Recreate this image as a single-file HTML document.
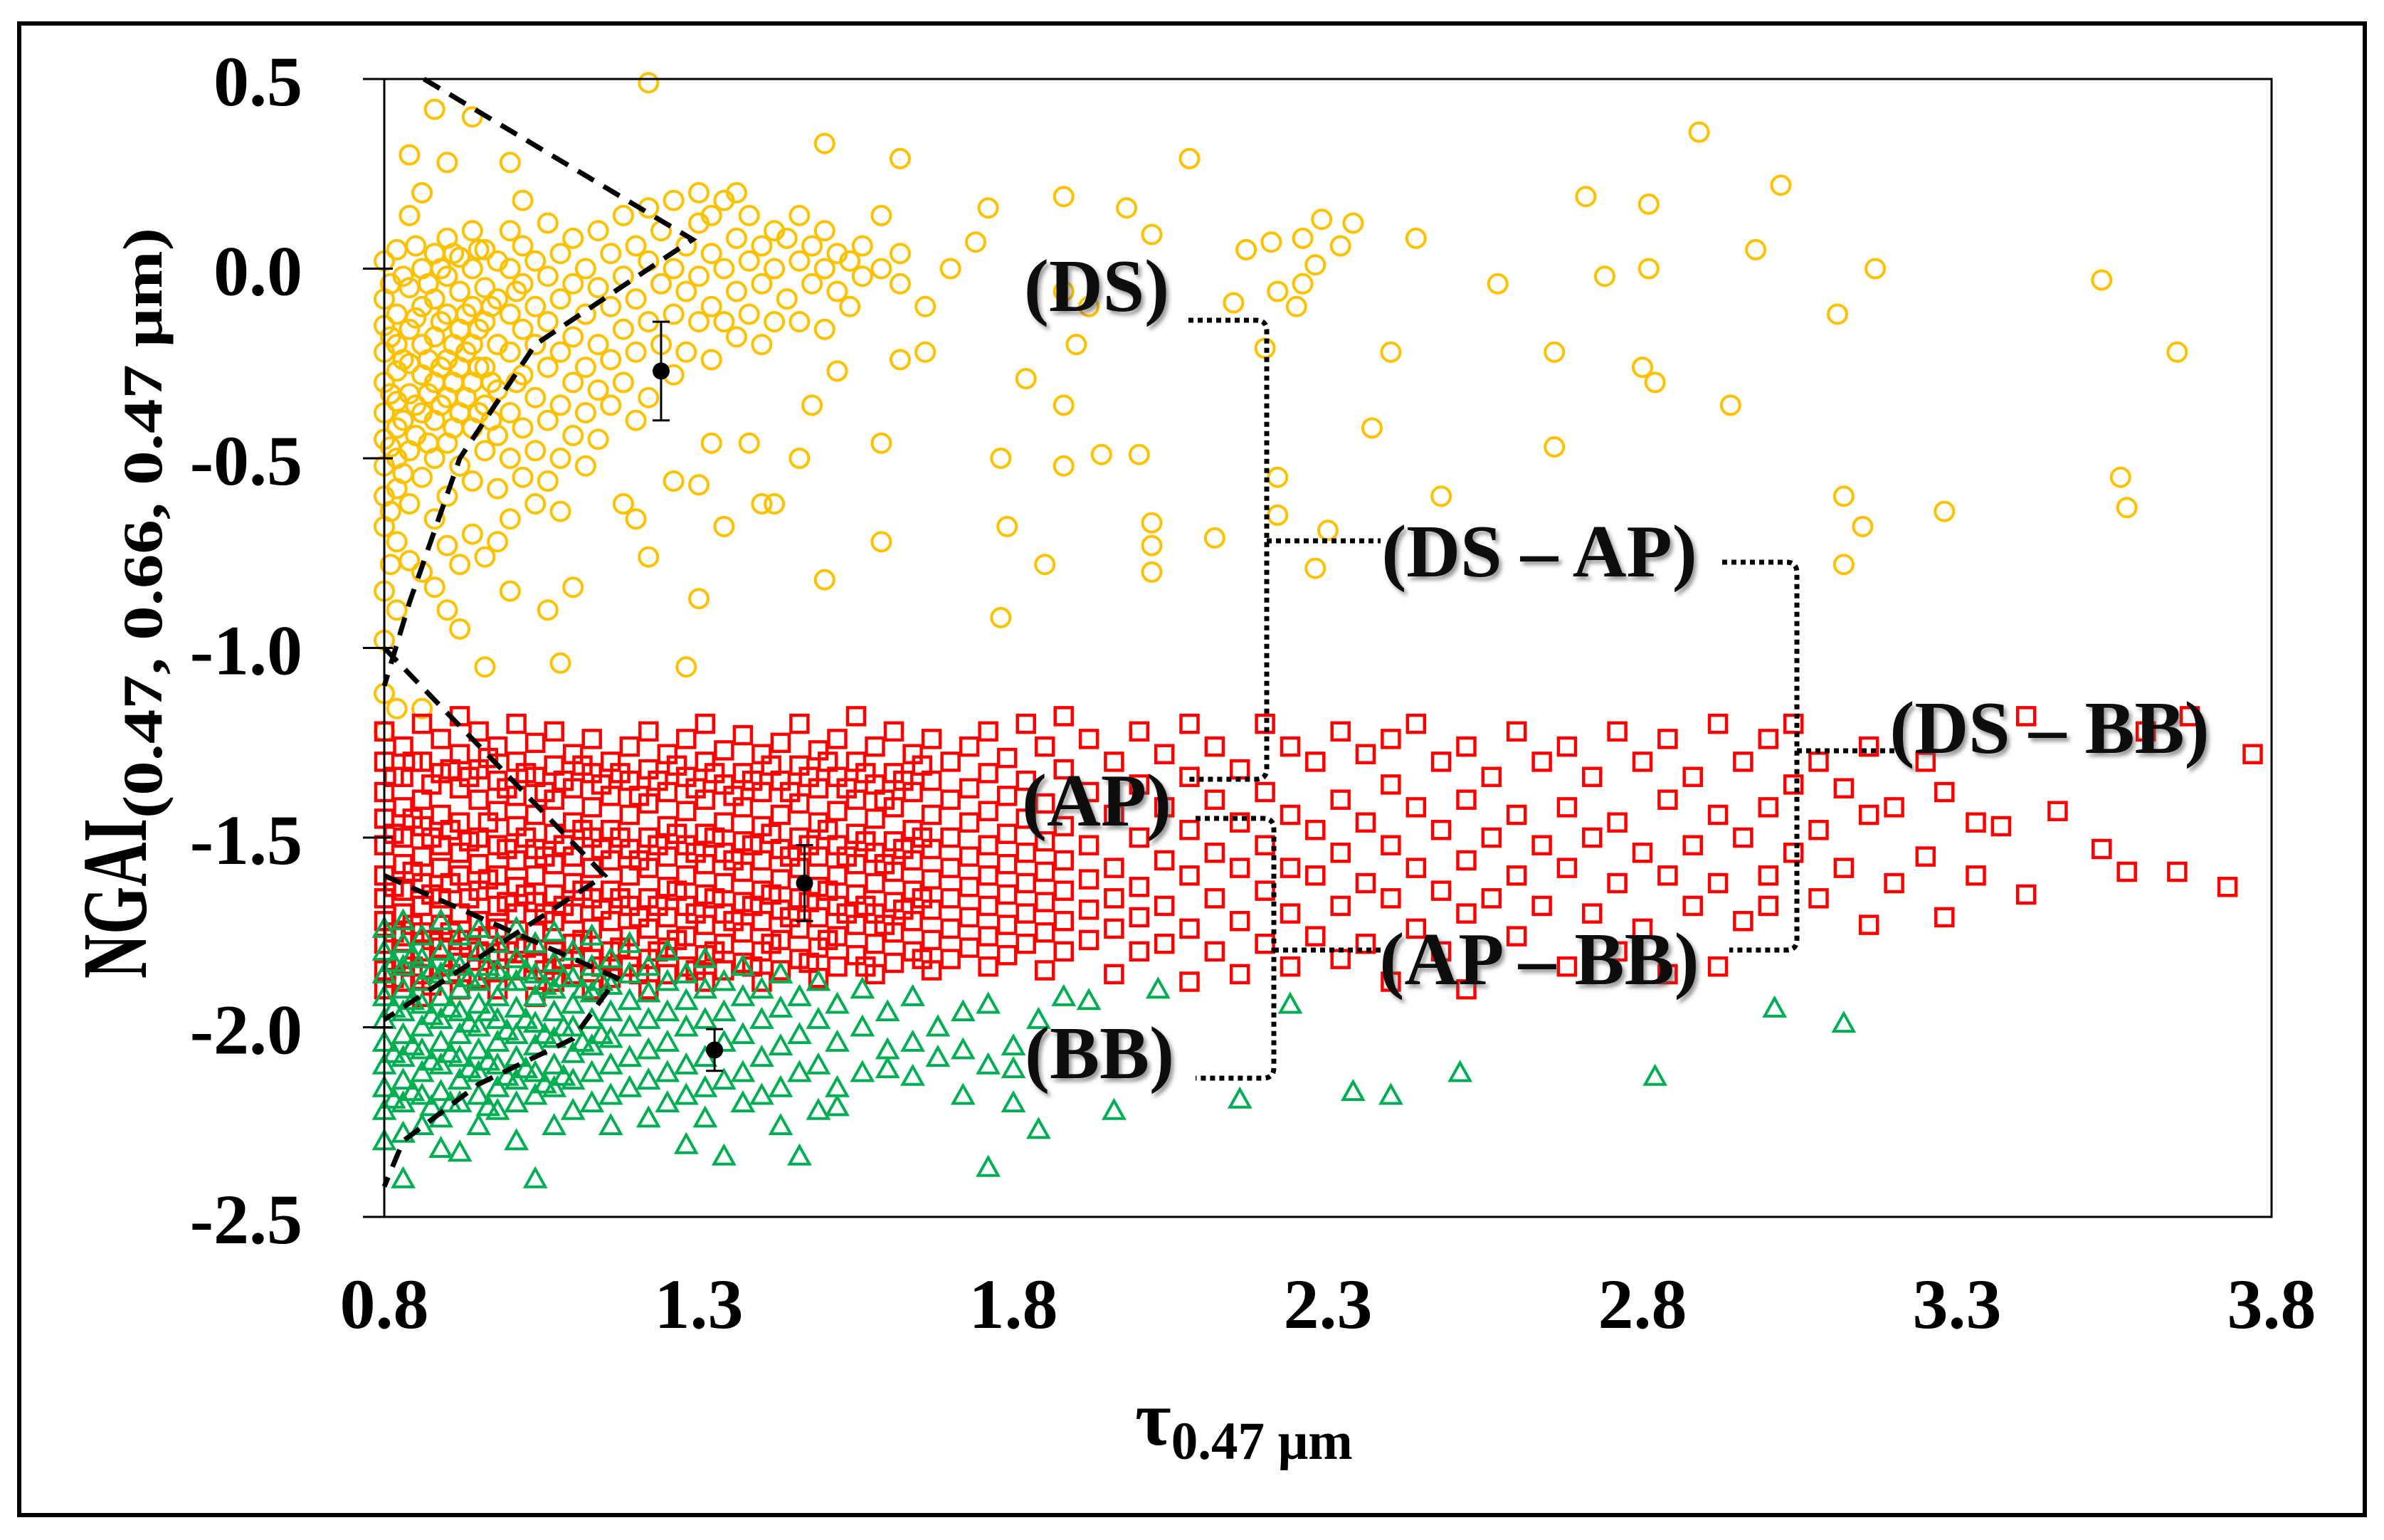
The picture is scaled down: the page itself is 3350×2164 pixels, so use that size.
<!DOCTYPE html>
<html><head><meta charset="utf-8"><style>
html,body{margin:0;padding:0;background:#fff;}
svg{display:block;}
text{font-family:"Liberation Serif",serif;font-weight:bold;}
.ann{fill:#111;filter:url(#sh);}
</style></head><body>
<svg id="chart" width="3350" height="2164" viewBox="0 0 3350 2164" xmlns="http://www.w3.org/2000/svg">
<defs><filter id="sh" x="-10%" y="-10%" width="130%" height="140%"><feDropShadow dx="4" dy="5" stdDeviation="3" flood-color="#555" flood-opacity="0.6"/></filter></defs>
<rect x="27" y="33" width="3296" height="2096" fill="#fff" stroke="#000" stroke-width="6"/>
<g id="marks"></g>
<g id="axes"></g>
<g id="annot"></g>
</svg>
<script>
const xTicks=[0.8,1.3,1.8,2.3,2.8,3.3,3.8];
const yTicks=[0.5,0.0,-0.5,-1.0,-1.5,-2.0,-2.5];
const dsCols=[
[0.80,[0.02,-0.08,-0.15,-0.22,-0.3,-0.38,-0.45,-0.52,-0.6,-0.68,-0.85,-0.98,-1.12,-1.22]],
[0.81,[-0.04,-0.18,-0.33,-0.47,-0.64,-0.78]],
[0.82,[0.05,-0.12,-0.2,-0.27,-0.35,-0.42,-0.5,-0.58,-0.72,-0.9,-1.16]],
[0.83,[-0.02,-0.24,-0.4,-0.54]],
[0.84,[0.14,-0.05,-0.16,-0.25,-0.33,-0.48,-0.62,-0.77,0.3]],
[0.85,[0.06,-0.13,-0.36,-0.44]],
[0.86,[0.0,-0.1,-0.2,-0.28,-0.38,-0.55,-0.8,0.2,-1.16]],
[0.87,[-0.04,-0.24,-0.33,-0.46]],
[0.88,[0.04,-0.08,-0.18,-0.3,-0.4,-0.5,-0.66,0.42,-0.84]],
[0.89,[0.0,-0.14,-0.26,-0.36]],
[0.90,[0.08,-0.02,-0.12,-0.24,-0.34,-0.46,-0.6,-0.73,0.28,-0.9]],
[0.91,[0.04,-0.2,-0.3,-0.42]],
[0.92,[0.03,-0.06,-0.16,-0.26,-0.38,-0.52,-0.78,-0.95]],
[0.93,[-0.12,-0.22,-0.34]],
[0.94,[0.1,0.0,-0.1,-0.2,-0.3,-0.42,-0.56,-0.7,0.4]],
[0.95,[0.05,-0.16,-0.26,-0.38]],
[0.96,[0.05,-0.05,-0.14,-0.26,-0.36,-0.48,-0.76,-1.05]],
[0.97,[-0.1,-0.3,-0.4]],
[0.98,[0.02,-0.08,-0.2,-0.32,-0.44,-0.58,-0.72]],
[1.00,[0.1,0.0,-0.12,-0.22,-0.38,-0.5,-0.66,0.28,-0.85]],
[1.01,[-0.06,-0.3]],
[1.02,[0.06,-0.04,-0.16,-0.28,-0.42,-0.55,0.18]],
[1.04,[0.02,-0.1,-0.2,-0.34,-0.48,-0.62]],
[1.06,[0.12,-0.02,-0.14,-0.26,-0.4,-0.56,-0.9]],
[1.08,[0.04,-0.08,-0.22,-0.36,-0.5,-0.64,-1.04]],
[1.10,[0.08,-0.04,-0.18,-0.3,-0.44,-0.84]],
[1.12,[0.0,-0.12,-0.26,-0.38,-0.52]],
[1.14,[0.1,-0.05,-0.2,-0.32,-0.45]],
[1.16,[0.04,-0.1,-0.24,-0.36]],
[1.18,[0.14,-0.02,-0.16,-0.3,-0.62]],
[1.20,[0.06,-0.08,-0.22,-0.4,-0.66]],
[1.22,[0.02,-0.14,-0.34,0.16,-0.76,0.49]],
[1.24,[0.1,-0.04,-0.2]],
[1.26,[0.18,0.0,-0.12,-0.28,-0.56]],
[1.28,[0.06,-0.06,-0.22,-1.05]],
[1.30,[0.12,-0.02,-0.14,0.2,-0.57,-0.87]],
[1.32,[0.04,-0.1,-0.24,0.14,-0.46]],
[1.34,[0.0,-0.14,0.18,-0.68]],
[1.36,[0.08,-0.06,-0.18,0.2]],
[1.38,[0.02,-0.12,0.14,-0.46]],
[1.40,[0.06,-0.04,-0.2,-0.62]],
[1.42,[0.0,-0.14,0.1,-0.62]],
[1.44,[0.08,-0.08]],
[1.46,[0.02,-0.14,0.14,-0.5]],
[1.48,[-0.04,0.06,-0.36]],
[1.50,[0.0,-0.16,0.1,0.33,-0.82]],
[1.52,[-0.06,0.04,-0.27]],
[1.54,[0.02,-0.1]],
[1.56,[0.06,-0.02]],
[1.59,[0.0,0.14,-0.46,-0.72]],
[1.62,[0.04,-0.04,0.29,-0.24]],
[1.66,[-0.1,-0.22]],
[1.70,[0.0]],
[1.74,[0.07]],
[1.76,[0.16]],
[1.78,[-0.5,-0.92]],
[1.79,[-0.68]],
[1.82,[-0.29]],
[1.85,[-0.78]],
[1.88,[0.19,-0.36,-0.06,-0.52]],
[1.90,[-0.2]],
[1.92,[-0.1]],
[1.94,[-0.49]],
[1.98,[0.16]],
[2.00,[-0.49]],
[2.02,[-0.67,-0.73,-0.8,0.09]],
[2.08,[0.29]],
[2.12,[-0.71]],
[2.15,[-0.09]],
[2.17,[0.05]],
[2.20,[-0.21]],
[2.21,[0.07]],
[2.22,[-0.06,-0.55,-0.65]],
[2.25,[-0.1]],
[2.26,[0.08,-0.04]],
[2.28,[0.01,-0.79]],
[2.29,[0.13]],
[2.30,[-0.69]],
[2.32,[0.06]],
[2.34,[0.12]],
[2.37,[-0.42]],
[2.40,[-0.22]],
[2.44,[0.08]],
[2.48,[-0.6]],
[2.57,[-0.04]],
[2.66,[-0.22,-0.47]],
[2.71,[0.19]],
[2.74,[-0.02]],
[2.80,[-0.26]],
[2.81,[0.17,0.0]],
[2.82,[-0.3]],
[2.89,[0.36]],
[2.94,[-0.36]],
[2.98,[0.05]],
[3.02,[0.22]],
[3.11,[-0.12]],
[3.12,[-0.6,-0.78]],
[3.15,[-0.68]],
[3.17,[0.0]],
[3.28,[-0.64]],
[3.53,[-0.03]],
[3.56,[-0.55]],
[3.57,[-0.63]],
[3.65,[-0.22]]
];
const apCols=[
[0.80,[-1.22,-1.3,-1.38,-1.45,-1.52,-1.6,-1.66,-1.72,-1.78,-1.85,-1.9]],
[0.815,[-1.34,-1.49,-1.63,-1.75,-1.87]],
[0.83,[-1.26,-1.34,-1.42,-1.5,-1.57,-1.64,-1.7,-1.76,-1.82,-1.88]],
[0.845,[-1.3,-1.45,-1.59,-1.73,-1.84]],
[0.86,[-1.2,-1.3,-1.4,-1.47,-1.55,-1.62,-1.68,-1.75,-1.8,-1.86,-1.92]],
[0.875,[-1.36,-1.5,-1.65,-1.77,-1.89]],
[0.89,[-1.24,-1.33,-1.44,-1.52,-1.58,-1.66,-1.73,-1.79,-1.84]],
[0.905,[-1.32,-1.48,-1.62,-1.75,-1.86]],
[0.92,[-1.18,-1.28,-1.37,-1.46,-1.54,-1.6,-1.7,-1.77,-1.83,-1.9]],
[0.935,[-1.34,-1.51,-1.66,-1.79]],
[0.95,[-1.22,-1.32,-1.4,-1.5,-1.57,-1.64,-1.72,-1.8,-1.87]],
[0.965,[-1.29,-1.46,-1.61,-1.76,-1.85]],
[0.98,[-1.26,-1.35,-1.43,-1.52,-1.6,-1.68,-1.74,-1.82,-1.9]],
[0.995,[-1.37,-1.53,-1.67,-1.8]],
[1.01,[-1.2,-1.3,-1.39,-1.47,-1.56,-1.63,-1.7,-1.78,-1.85]],
[1.025,[-1.33,-1.5,-1.65,-1.79]],
[1.04,[-1.25,-1.34,-1.44,-1.53,-1.6,-1.67,-1.75,-1.83,-1.92]],
[1.055,[-1.38,-1.55,-1.7,-1.85]],
[1.07,[-1.22,-1.31,-1.4,-1.49,-1.57,-1.65,-1.72,-1.8,-1.88]],
[1.085,[-1.35,-1.52,-1.68,-1.82]],
[1.10,[-1.28,-1.37,-1.46,-1.55,-1.62,-1.7,-1.78,-1.86]],
[1.115,[-1.31,-1.48,-1.64,-1.77]],
[1.13,[-1.24,-1.33,-1.42,-1.5,-1.58,-1.66,-1.74,-1.82,-1.9]],
[1.145,[-1.36,-1.53,-1.69,-1.84]],
[1.16,[-1.3,-1.39,-1.48,-1.56,-1.64,-1.72,-1.8,-1.87]],
[1.175,[-1.33,-1.5,-1.66,-1.79]],
[1.19,[-1.26,-1.35,-1.44,-1.53,-1.6,-1.68,-1.76,-1.84]],
[1.205,[-1.39,-1.56,-1.71,-1.86]],
[1.22,[-1.22,-1.32,-1.41,-1.5,-1.58,-1.66,-1.74,-1.82,-1.9]],
[1.235,[-1.35,-1.52,-1.68,-1.8]],
[1.25,[-1.28,-1.38,-1.47,-1.55,-1.63,-1.71,-1.79,-1.86]],
[1.265,[-1.31,-1.49,-1.64,-1.77]],
[1.28,[-1.24,-1.34,-1.43,-1.52,-1.6,-1.68,-1.76,-1.84]],
[1.295,[-1.37,-1.54,-1.7,-1.85]],
[1.31,[-1.2,-1.3,-1.4,-1.49,-1.57,-1.65,-1.73,-1.81,-1.88]],
[1.325,[-1.33,-1.5,-1.66,-1.8]],
[1.34,[-1.27,-1.36,-1.46,-1.54,-1.62,-1.7,-1.78,-1.85]],
[1.355,[-1.39,-1.56,-1.72]],
[1.37,[-1.23,-1.33,-1.42,-1.51,-1.59,-1.67,-1.75,-1.83]],
[1.385,[-1.35,-1.52,-1.68,-1.84]],
[1.40,[-1.28,-1.38,-1.47,-1.56,-1.64,-1.72,-1.8,-1.88]],
[1.415,[-1.31,-1.49,-1.65,-1.78]],
[1.43,[-1.25,-1.35,-1.44,-1.53,-1.61,-1.69,-1.77,-1.85]],
[1.445,[-1.38,-1.55,-1.71]],
[1.46,[-1.2,-1.31,-1.41,-1.5,-1.58,-1.66,-1.74,-1.82]],
[1.475,[-1.34,-1.52,-1.67,-1.83]],
[1.49,[-1.27,-1.37,-1.46,-1.55,-1.63,-1.71,-1.79,-1.87]],
[1.505,[-1.3,-1.48,-1.64,-1.77]],
[1.52,[-1.24,-1.34,-1.43,-1.52,-1.6,-1.68,-1.76,-1.84]],
[1.535,[-1.37,-1.55,-1.7]],
[1.55,[-1.18,-1.3,-1.4,-1.49,-1.57,-1.65,-1.73,-1.81]],
[1.565,[-1.33,-1.51,-1.68,-1.84]],
[1.58,[-1.26,-1.36,-1.45,-1.54,-1.62,-1.7,-1.78,-1.86]],
[1.595,[-1.4,-1.57,-1.73]],
[1.61,[-1.22,-1.33,-1.42,-1.51,-1.59,-1.67,-1.75,-1.83]],
[1.625,[-1.35,-1.53,-1.69]],
[1.64,[-1.28,-1.38,-1.48,-1.56,-1.64,-1.72,-1.8]],
[1.655,[-1.31,-1.5,-1.66,-1.82]],
[1.67,[-1.24,-1.35,-1.44,-1.53,-1.61,-1.69,-1.77,-1.85]],
[1.70,[-1.3,-1.4,-1.5,-1.58,-1.66,-1.74,-1.82]],
[1.73,[-1.26,-1.37,-1.46,-1.55,-1.63,-1.71,-1.79]],
[1.76,[-1.22,-1.33,-1.43,-1.52,-1.6,-1.68,-1.76,-1.84]],
[1.79,[-1.29,-1.39,-1.49,-1.57,-1.65,-1.73,-1.81]],
[1.82,[-1.2,-1.35,-1.45,-1.54,-1.62,-1.7,-1.78]],
[1.85,[-1.26,-1.41,-1.51,-1.59,-1.67,-1.75,-1.85]],
[1.88,[-1.18,-1.32,-1.47,-1.56,-1.64,-1.72,-1.8]],
[1.92,[-1.24,-1.38,-1.52,-1.61,-1.69,-1.77]],
[1.96,[-1.3,-1.44,-1.58,-1.66,-1.74,-1.86]],
[2.00,[-1.22,-1.36,-1.5,-1.63,-1.71,-1.8]],
[2.04,[-1.28,-1.42,-1.56,-1.68,-1.78]],
[2.08,[-1.2,-1.34,-1.48,-1.6,-1.74,-1.88]],
[2.12,[-1.26,-1.4,-1.54,-1.66,-1.8]],
[2.16,[-1.32,-1.46,-1.58,-1.72,-1.86]],
[2.20,[-1.2,-1.38,-1.52,-1.64,-1.78]],
[2.24,[-1.26,-1.44,-1.58,-1.7,-1.84]],
[2.28,[-1.3,-1.48,-1.6,-1.76]],
[2.32,[-1.22,-1.4,-1.54,-1.68,-1.82]],
[2.36,[-1.28,-1.46,-1.62,-1.78]],
[2.40,[-1.24,-1.36,-1.52,-1.66,-1.88]],
[2.44,[-1.2,-1.42,-1.58,-1.74]],
[2.48,[-1.3,-1.48,-1.64,-1.8]],
[2.52,[-1.26,-1.4,-1.56,-1.7,-1.9]],
[2.56,[-1.34,-1.5,-1.66]],
[2.60,[-1.22,-1.44,-1.6,-1.76]],
[2.64,[-1.3,-1.52,-1.68]],
[2.68,[-1.26,-1.42,-1.58,-1.84]],
[2.72,[-1.34,-1.5,-1.7]],
[2.76,[-1.22,-1.46,-1.62,-1.8]],
[2.80,[-1.3,-1.54,-1.74]],
[2.84,[-1.24,-1.4,-1.6,-1.86]],
[2.88,[-1.34,-1.52,-1.68]],
[2.92,[-1.2,-1.44,-1.62,-1.84]],
[2.96,[-1.3,-1.5,-1.72]],
[3.00,[-1.24,-1.42,-1.6,-1.68]],
[3.04,[-1.2,-1.36,-1.54]],
[3.08,[-1.3,-1.48,-1.66]],
[3.12,[-1.37,-1.58]],
[3.16,[-1.26,-1.44,-1.73]],
[3.20,[-1.42,-1.62]],
[3.25,[-1.3,-1.55]],
[3.28,[-1.38,-1.71]],
[3.33,[-1.46,-1.6]],
[3.37,[-1.47]],
[3.41,[-1.18,-1.65]],
[3.46,[-1.43]],
[3.53,[-1.53]],
[3.57,[-1.59]],
[3.60,[-1.22]],
[3.65,[-1.59]],
[3.67,[-1.18]],
[3.73,[-1.63]],
[3.77,[-1.28]]
];
const bbCols=[
[0.80,[-1.74,-1.8,-1.86,-1.92,-1.98,-2.04,-2.1,-2.16,-2.22,-2.3]],
[0.815,[-1.83,-1.95,-2.07,-2.19]],
[0.83,[-1.72,-1.78,-1.84,-1.9,-1.96,-2.02,-2.08,-2.14,-2.2,-2.28,-2.4]],
[0.845,[-1.81,-1.93,-2.05,-2.17]],
[0.86,[-1.76,-1.82,-1.88,-1.94,-2.0,-2.06,-2.12,-2.18,-2.26]],
[0.875,[-1.85,-1.97,-2.09,-2.21]],
[0.89,[-1.72,-1.8,-1.86,-1.92,-1.98,-2.04,-2.1,-2.17,-2.24,-2.32]],
[0.905,[-1.83,-1.95,-2.07,-2.2]],
[0.92,[-1.76,-1.84,-1.9,-1.96,-2.02,-2.08,-2.14,-2.2,-2.33]],
[0.935,[-1.87,-1.99,-2.11]],
[0.95,[-1.74,-1.8,-1.88,-1.94,-2.0,-2.06,-2.12,-2.18,-2.26]],
[0.965,[-1.84,-1.96,-2.09,-2.21]],
[0.98,[-1.78,-1.85,-1.92,-1.98,-2.04,-2.1,-2.16,-2.22]],
[0.995,[-1.88,-2.01,-2.13]],
[1.01,[-1.74,-1.82,-1.88,-1.95,-2.02,-2.08,-2.14,-2.2,-2.3]],
[1.025,[-1.85,-1.98,-2.11]],
[1.04,[-1.78,-1.86,-1.92,-1.99,-2.05,-2.12,-2.18,-2.4]],
[1.055,[-1.89,-2.02,-2.15]],
[1.07,[-1.75,-1.83,-1.9,-1.96,-2.03,-2.1,-2.16,-2.26]],
[1.085,[-1.87,-2.0,-2.13]],
[1.10,[-1.8,-1.87,-1.94,-2.0,-2.07,-2.14,-2.22]],
[1.115,[-1.9,-2.04]],
[1.13,[-1.76,-1.84,-1.91,-1.98,-2.05,-2.12,-2.2]],
[1.145,[-1.88,-2.02]],
[1.16,[-1.82,-1.89,-1.96,-2.03,-2.1,-2.18,-2.26]],
[1.19,[-1.78,-1.86,-1.93,-2.0,-2.08,-2.16]],
[1.22,[-1.84,-1.91,-1.98,-2.06,-2.14,-2.24]],
[1.25,[-1.8,-1.88,-1.96,-2.04,-2.12,-2.2]],
[1.28,[-1.86,-1.93,-2.0,-2.1,-2.18,-2.31]],
[1.31,[-1.82,-1.9,-1.98,-2.08,-2.16,-2.24]],
[1.34,[-1.88,-1.96,-2.04,-2.14,-2.34]],
[1.37,[-1.84,-1.92,-2.02,-2.12,-2.2]],
[1.40,[-1.9,-1.98,-2.08,-2.18]],
[1.43,[-1.86,-1.95,-2.05,-2.16,-2.26]],
[1.46,[-1.92,-2.02,-2.12,-2.34]],
[1.49,[-1.88,-1.98,-2.1,-2.22]],
[1.52,[-1.94,-2.04,-2.16,-2.21]],
[1.56,[-1.9,-2.0,-2.12]],
[1.60,[-1.96,-2.06,-2.11]],
[1.64,[-1.92,-2.04,-2.13]],
[1.68,[-2.0,-2.08]],
[1.72,[-1.96,-2.06,-2.18]],
[1.76,[-1.94,-2.1,-2.37]],
[1.80,[-2.05,-2.11,-2.2]],
[1.84,[-1.98,-2.27]],
[1.88,[-1.92]],[1.92,[-1.93]],[1.96,[-2.22]],[2.03,[-1.9]],[2.16,[-2.19]],[2.24,[-1.94]],
[2.34,[-2.17]],[2.40,[-2.18]],[2.51,[-2.12]],[2.82,[-2.13]],[3.01,[-1.95]],[3.12,[-1.99]]
];
const meanX=[1.24,1.468,1.325];
const meanY=[-0.27,-1.62,-2.06];
const meanErr=[0.13,0.1,0.055];
const dsBoundX=[0.863,1.29,1.04,0.92,0.84,0.8];
const dsBoundY=[0.5,0.077,-0.2,-0.5,-0.88,-1.1];
const apBoundX=[0.8,1.15,0.8];
const apBoundY=[-1.0,-1.6,-1.98];
const bbBoundX=[0.8,1.17,1.1,0.95,0.83,0.8];
const bbBoundY=[-1.6,-1.87,-2.03,-2.15,-2.3,-2.42];

const NS="http://www.w3.org/2000/svg";
const X0=540,X1=3192,Y0=111,Y1=1710;
function sx(v){return X0+(v-0.8)/3.0*(X1-X0);}
function sy(v){return Y0+(0.5-v)/3.0*(Y1-Y0);}
function mk(tag,attrs,parent){const e=document.createElementNS(NS,tag);for(const k in attrs)e.setAttribute(k,attrs[k]);parent.appendChild(e);return e;}
const marks=document.getElementById('marks');
const axes=document.getElementById('axes');

function poly(xs,ys,name){
  let d='';for(let i=0;i<xs.length;i++)d+=(i?'L':'M')+sx(xs[i]).toFixed(1)+','+sy(ys[i]).toFixed(1);
  const p=mk('path',{d:d,fill:'none',stroke:'#000','stroke-width':7,'stroke-dasharray':'26 16'},marks);
  
  
}

const gDS=mk('g',{},marks);


dsCols.forEach(c=>c[1].forEach(y=>{
  const e=mk('circle',{cx:sx(c[0]).toFixed(1),cy:sy(y).toFixed(1),r:13,fill:'none',stroke:'#FFC000','stroke-width':4},gDS);
  
  
}));
const gAP=mk('g',{},marks);


apCols.forEach(c=>c[1].forEach(y=>{
  const e=mk('rect',{x:(sx(c[0])-12).toFixed(1),y:(sy(y)-12).toFixed(1),width:24,height:24,fill:'none',stroke:'#FF0000','stroke-width':4.5},gAP);
  
  
}));
const gBB=mk('g',{},marks);


bbCols.forEach(c=>c[1].forEach(y=>{
  const cx=sx(c[0]),cy=sy(y);
  const e=mk('path',{d:`M${cx},${cy-14}L${cx+14},${cy+11}L${cx-14},${cy+11}Z`,fill:'none',stroke:'#00B050','stroke-width':4},gBB);
  
  
}));
poly(dsBoundX,dsBoundY,'ds-boundary');
poly(apBoundX,apBoundY,'ap-boundary');
poly(bbBoundX,bbBoundY,'bb-boundary');

for(let i=0;i<meanX.length;i++){
  const g=mk('g',{},marks);
  
  
  const x=sx(meanX[i]),yt=sy(meanY[i]+meanErr[i]),yb=sy(meanY[i]-meanErr[i]);
  mk('line',{x1:x,y1:yt,x2:x,y2:yb,stroke:'#000','stroke-width':3},g);
  mk('line',{x1:x-12,y1:yt,x2:x+12,y2:yt,stroke:'#000','stroke-width':3},g);
  mk('line',{x1:x-12,y1:yb,x2:x+12,y2:yb,stroke:'#000','stroke-width':3},g);
  mk('circle',{cx:x,cy:sy(meanY[i]),r:12,fill:'#000'},g);
}

const fr=mk('path',{d:`M${X0},${Y0}V${Y1}H${X1}V${Y0}H${X0-30}`,fill:'none',stroke:'#000','stroke-width':3},axes);


yTicks.forEach(t=>{
  const y=sy(t);
  mk('line',{x1:X0-30,y1:y,x2:X0+12,y2:y,stroke:'#000','stroke-width':3},axes);
  const tx=mk('text',{x:425,y:y+37,'text-anchor':'end','font-size':100},axes);
  tx.textContent=t.toFixed(1);
  
  
});
xTicks.forEach(t=>{
  const x=sx(t);
  const tx=mk('text',{x:x,y:1866,'text-anchor':'middle','font-size':100},axes);
  tx.textContent=t.toFixed(1);
  
  
});
</script>
<svg style="position:absolute;left:0;top:0" width="3350" height="2164" viewBox="0 0 3350 2164" xmlns="http://www.w3.org/2000/svg">
<text transform="translate(205,1375) rotate(-90)" font-size="130"><tspan textLength="225" lengthAdjust="spacingAndGlyphs">NGAI</tspan><tspan font-size="78" dy="22" textLength="830" lengthAdjust="spacingAndGlyphs">(0.47, 0.66, 0.47 μm)</tspan></text>
<text x="1595" y="2030" font-size="110">τ<tspan font-size="75" dy="20">0.47 μm</tspan></text>
<g>
<text class="ann" x="1541" y="437" font-size="105" text-anchor="middle">(DS)</text>
<text class="ann" x="2163" y="810" font-size="105" text-anchor="middle">(DS – AP)</text>
<text class="ann" x="2880" y="1058" font-size="105" text-anchor="middle">(DS – BB)</text>
<text class="ann" x="1541" y="1160" font-size="105" text-anchor="middle">(AP)</text>
<text class="ann" x="2163" y="1383" font-size="105" text-anchor="middle">(AP – BB)</text>
<text class="ann" x="1545" y="1515" font-size="105" text-anchor="middle">(BB)</text>
<g fill="none" stroke="#000" stroke-width="7" stroke-dasharray="7 6">
<path d="M1670,450H1765Q1780,450 1780,465V1080Q1780,1095 1765,1095H1670M1780,760H1940"/>
<path d="M1680,1150H1775Q1790,1150 1790,1165V1500Q1790,1515 1775,1515H1680M1790,1335H1940"/>
<path d="M2420,790H2510Q2525,790 2525,805V1320Q2525,1335 2510,1335H2430M2525,1055H2670"/>
</g>
</g>
</svg>
</body></html>
